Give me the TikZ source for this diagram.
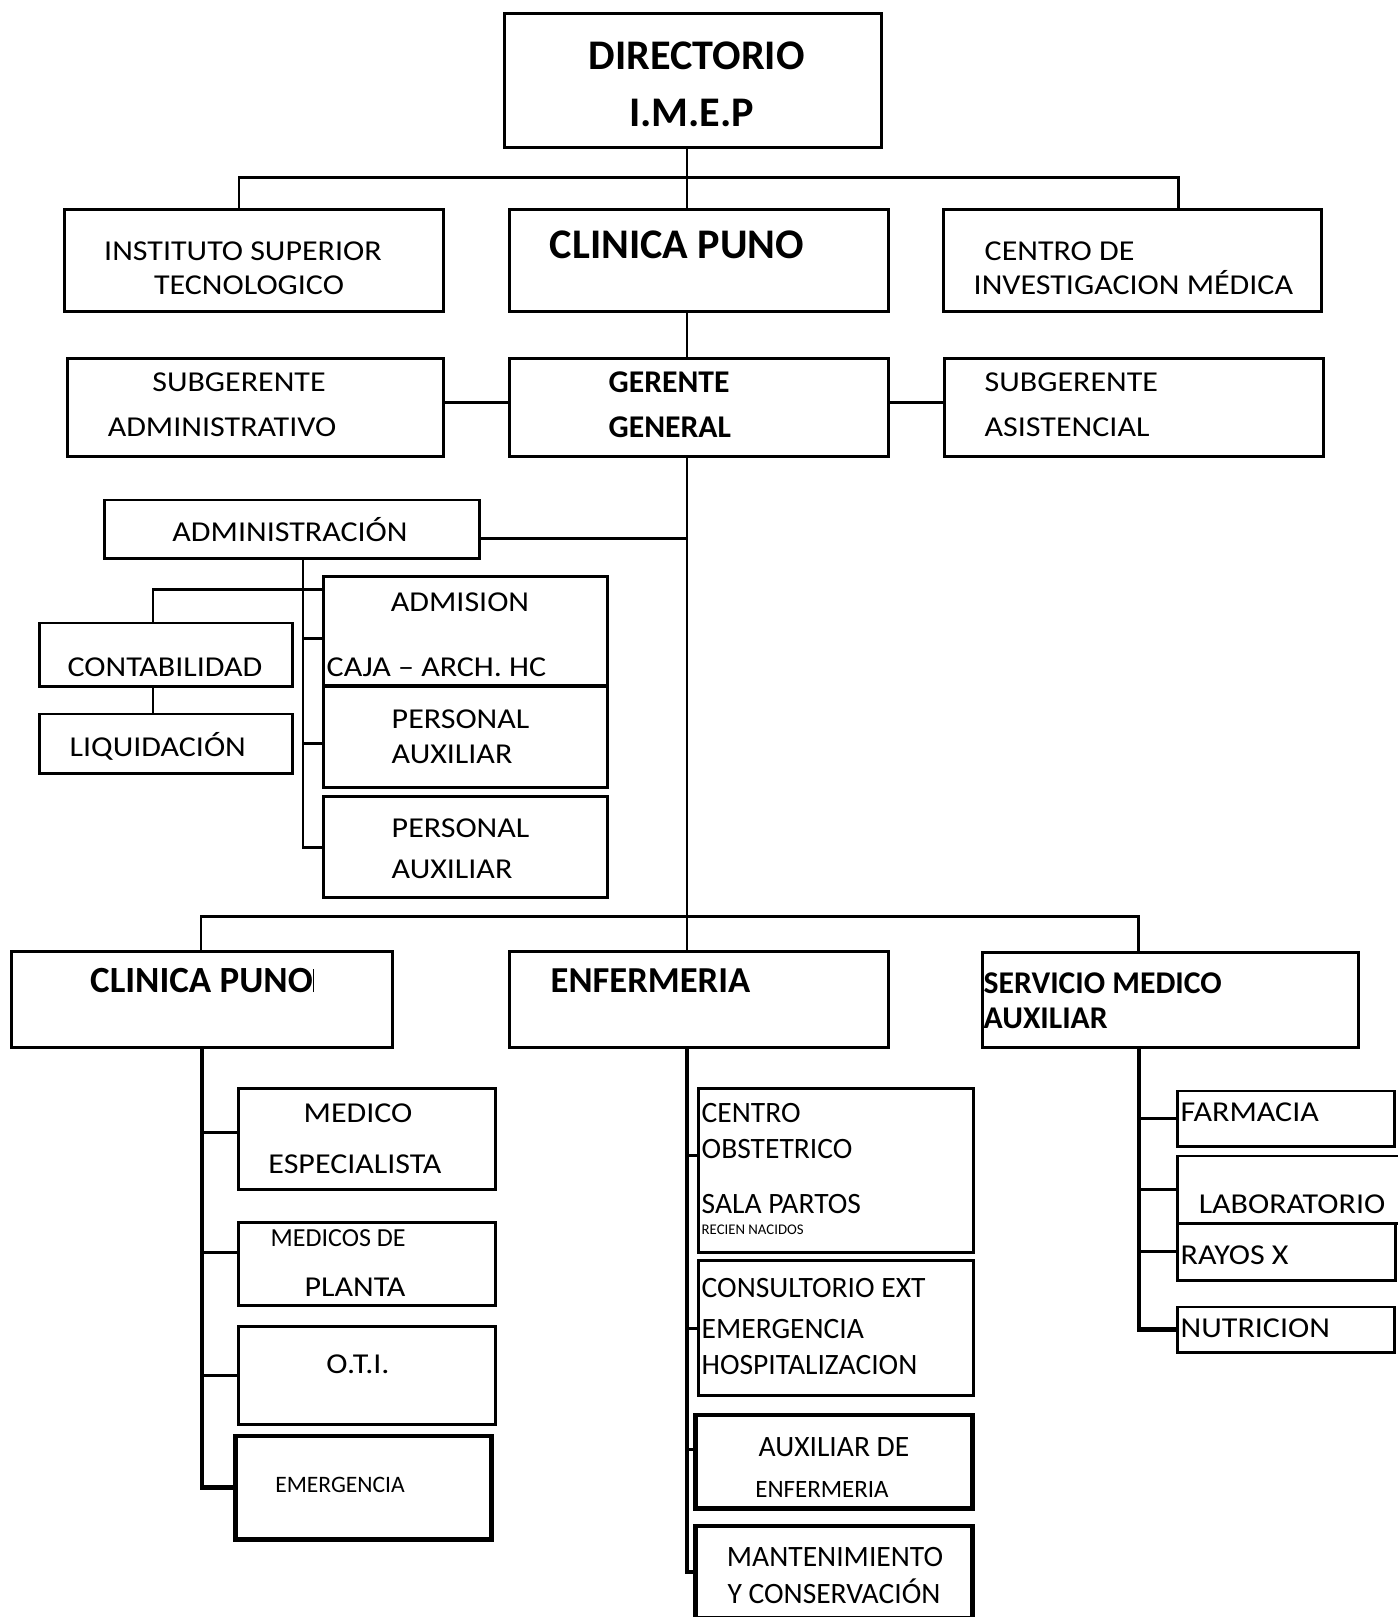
\documentclass[tikz,border=0pt]{standalone}
\usepackage{fontspec}
\setmainfont{Carlito}
\newfontfamily\widefont{Carlito}[FakeStretch=1.11]
\begin{document}
\begin{tikzpicture}[x=0.01cm, y=-0.01cm,
  box/.style={draw, line width=0.85pt, inner sep=0pt},
  heavybox/.style={box, line width=1.4pt},
  link/.style={line width=0.85pt},
  trunk/.style={line width=1.15pt},
  txt/.style={inner sep=0pt, font=\widefont\fontsize{#1}{#1}\selectfont},
  txt/.default=8.2,
  ntxt/.style={inner sep=0pt, font=\fontsize{#1}{#1}\selectfont},
  ntxt/.default=8.4,
  hd/.style={inner sep=0pt, font=\fontsize{#1}{#1}\selectfont\bfseries}]
\useasboundingbox (0,0) rectangle (1398,1617);

% Boxes, top levels
\node[box, minimum width=3.76cm, minimum height=1.33cm] (dir) at (693,80.5) {};
\node[box, minimum width=3.78cm, minimum height=1.01cm] (ist) at (254,260.5) {};
\node[box, minimum width=3.78cm, minimum height=1.01cm] (cp) at (699,260.5) {};
\node[box, minimum width=3.77cm, minimum height=1.01cm] (cim) at (1132.5,260.5) {};
\node[box, minimum width=3.75cm, minimum height=0.97cm] (sga) at (255.5,407.5) {};
\node[box, minimum width=3.78cm, minimum height=0.97cm] (gg) at (699,407.5) {};
\node[box, minimum width=3.78cm, minimum height=0.97cm] (sgs) at (1134,407.5) {};

% Administracion
\node[box, minimum width=3.74cm, minimum height=0.58cm] (adm) at (292,529) {};
\node[box, minimum width=2.52cm, minimum height=0.63cm] (con) at (166,654.5) {};
\node[box, minimum width=2.52cm, minimum height=0.59cm] (liq) at (166,743.5) {};
\node[box, minimum width=2.83cm, minimum height=1.09cm] (adn) at (465.5,631.5) {};
\node[box, minimum width=2.83cm, minimum height=1.01cm] (pa1) at (465.5,736.5) {};
\node[box, minimum width=2.83cm, minimum height=1.00cm] (pa2) at (465.5,847) {};

% Lower level
\node[box, minimum width=3.80cm, minimum height=0.95cm] (cp2) at (202,999.5) {};
\node[box, minimum width=3.78cm, minimum height=0.95cm] (enf) at (699,999.5) {};
\node[box, minimum width=3.75cm, minimum height=0.94cm] (sma) at (1170.5,1000) {};

\node[box, minimum width=2.56cm, minimum height=1.00cm] (mes) at (367,1139) {};
\node[box, minimum width=2.56cm, minimum height=0.82cm] (mdp) at (367,1264) {};
\node[box, minimum width=2.56cm, minimum height=0.97cm] (oti) at (367,1375.5) {};
\node[heavybox, minimum width=2.55cm, minimum height=1.03cm] (eme) at (363.5,1487.5) {};

\node[box, minimum width=2.74cm, minimum height=1.63cm] (cob) at (836,1170.5) {};
\node[box, minimum width=2.74cm, minimum height=1.34cm] (cex) at (836,1328) {};
\node[heavybox, minimum width=2.76cm, minimum height=0.93cm] (aux) at (834,1461.5) {};
\node[heavybox, minimum width=2.76cm, minimum height=0.92cm] (man) at (834,1572) {};

\node[box, minimum width=2.16cm, minimum height=0.55cm] (far) at (1286,1118.5) {};
\node[box, minimum width=2.32cm, minimum height=0.67cm] (lab) at (1294,1189.5) {};
\node[box, minimum width=2.17cm, minimum height=0.57cm] (ray) at (1286.5,1251.5) {};
\node[box, minimum width=2.16cm, minimum height=0.45cm] (nut) at (1286,1329.5) {};

% Texts
\node[hd=12, anchor=base] (dirA) at (696.7,69.5) {DIRECTORIO};
\node[hd=12, anchor=base] (dirB) at (691.7,126) {I.M.E.P};
\node[txt, anchor=base] (istA) at (243,260) {INSTITUTO SUPERIOR};
\node[txt, anchor=base] (istB) at (249,294) {TECNOLOGICO};
\node[hd=12, anchor=base] (cpA) at (677,258.5) {CLINICA PUNO};
\node[txt, anchor=base west] (cimA) at (984,260) {CENTRO DE};
\node[txt, anchor=base west] (cimB) at (973,294) {INVESTIGACION MÉDICA};
\node[txt, anchor=base] (sgaA) at (239,391) {SUBGERENTE};
\node[txt, anchor=base] (sgaB) at (222,436) {ADMINISTRATIVO};
\node[hd=9, anchor=base west] (ggA) at (608,392) {GERENTE};
\node[hd=9, anchor=base west] (ggB) at (608,437) {GENERAL};
\node[txt, anchor=base west] (sgsA) at (984,391) {SUBGERENTE};
\node[txt, anchor=base west] (sgsB) at (984,436) {ASISTENCIAL};

\node[txt, anchor=base] (admA) at (290,541) {ADMINISTRACIÓN};
\node[txt, anchor=base] (conA) at (165,676) {CONTABILIDAD};
\node[txt, anchor=base west] (liqA) at (69,756) {LIQUIDACIÓN};
\node[txt, anchor=base] (adnA) at (460,611) {ADMISION};
\node[txt, anchor=base west] (adnB) at (326,676) {CAJA – ARCH. HC};
\node[txt, anchor=base west] (pa1A) at (391,728) {PERSONAL};
\node[txt, anchor=base west] (pa1B) at (391,763) {AUXILIAR};
\node[txt, anchor=base west] (pa2A) at (391,837) {PERSONAL};
\node[txt, anchor=base west] (pa2B) at (391,878) {AUXILIAR};

\node[hd=10.5, anchor=base] (cp2A) at (202,992) {CLINICA PUNO\rule{0.3pt}{0.62em}};
\node[hd=10.4, anchor=base west] (enfA) at (550,992) {ENFERMERIA};
\node[hd=9, anchor=base west] (smaA) at (983,993) {SERVICIO MEDICO};
\node[hd=9, anchor=base west] (smaB) at (983,1028) {AUXILIAR};

\node[txt, anchor=base] (mesA) at (358,1122) {MEDICO};
\node[txt, anchor=base] (mesB) at (355,1173) {ESPECIALISTA};
\node[ntxt=7.4, anchor=base west] (mdpA) at (270,1246) {MEDICOS DE};
\node[txt, anchor=base] (mdpB) at (355,1296) {PLANTA};
\node[txt, anchor=base] (otiA) at (358,1373) {O.T.I.};
\node[ntxt=6.7, anchor=base] (emeA) at (340,1492.5) {EMERGENCIA};

\node[ntxt, anchor=base west] (cobA) at (701,1122) {CENTRO};
\node[ntxt, anchor=base west] (cobB) at (701,1158) {OBSTETRICO};
\node[ntxt, anchor=base west] (cobC) at (701,1213) {SALA PARTOS};
\node[ntxt=4.2, anchor=base west] (cobD) at (701,1234) {RECIEN NACIDOS};
\node[ntxt, anchor=base west] (cexA) at (701,1297) {CONSULTORIO EXT};
\node[ntxt, anchor=base west] (cexB) at (701,1338) {EMERGENCIA};
\node[ntxt, anchor=base west] (cexC) at (701,1374) {HOSPITALIZACION};
\node[ntxt, anchor=base] (auxA) at (834,1456) {AUXILIAR DE};
\node[ntxt=7.1, anchor=base] (auxB) at (822,1497) {ENFERMERIA};
\node[ntxt, anchor=base] (manA) at (835,1566) {MANTENIMIENTO};
\node[ntxt, anchor=base] (manB) at (834,1603) {Y CONSERVACIÓN};

\node[txt, anchor=base west] (farA) at (1180,1121) {FARMACIA};
\node[txt, anchor=base] (labA) at (1292,1213) {LABORATORIO};
\node[txt, anchor=base west] (rayA) at (1180,1264) {RAYOS X};
\node[txt, anchor=base west] (nutA) at (1180,1337) {NUTRICION};

% Connectors
\coordinate (mx) at (687,0);
\coordinate (b1l) at (239,177);
\coordinate (b1r) at (1178,177);
\coordinate (b2l) at (201,916);
\coordinate (b2r) at (1138,916);
\coordinate (admT) at (303,558);
\coordinate (br) at (153,589);
\coordinate (smaT) at (1139,1047);

\draw[link] (dir.south -| mx) -- (cp.north -| mx);
\draw[link] (b1l |- ist.north) -- (b1l) -- (b1r) -- (b1r |- cim.north);
\draw[link] (cp.south -| mx) -- (gg.north -| mx);
\draw[link] ([yshift=0.055cm]sga.east) -- ([yshift=0.055cm]gg.west);
\draw[link] ([yshift=0.055cm]gg.east) -- ([yshift=0.055cm]sgs.west);
\draw[link] (gg.south -| mx) -- (enf.north -| mx);
\draw[link] ([yshift=-0.09cm]adm.east) -- ([yshift=-0.09cm]adm.east -| mx);

\draw[link] (admT) |- (pa2.west);
\draw[link] ([yshift=-0.065cm]admT |- adn.west) -- ([yshift=-0.065cm]adn.west);
\draw[link] ([yshift=-0.065cm]admT |- pa1.west) -- ([yshift=-0.065cm]pa1.west);
\draw[link] (br |- con.north) -- (br) -- (br -| adn.west);
\draw[link] (br |- con.south) -- (br |- liq.north);

\draw[link] (b2l |- cp2.north) -- (b2l) -- (b2r) -- (b2r |- sma.north);

% Clinica Puno
\draw[trunk] (cp2.south) |- (eme.west);
\draw[link] ([yshift=0.065cm]cp2.south |- mes.west) -- ([yshift=0.065cm]mes.west);
\draw[link] ([yshift=0.12cm]cp2.south |- mdp.west) -- ([yshift=0.12cm]mdp.west);
\draw[link] (cp2.south |- oti.west) -- (oti.west);

% Enfermeria
\draw[trunk] (enf.south -| mx) |- (man.west);
\draw[link] ([yshift=0.155cm]mx |- cob.west) -- ([yshift=0.155cm]cob.west);
\draw[link] (mx |- cex.west) -- (cex.west);
\draw[link] ([yshift=0.125cm]mx |- aux.west) -- ([yshift=0.125cm]aux.west);

% Servicio medico auxiliar
\draw[trunk] (smaT) |- (nut.west);
\draw[link] (smaT |- far.west) -- (far.west);
\draw[link] (smaT |- lab.west) -- (lab.west);
\draw[link] (smaT |- ray.west) -- (ray.west);
\end{tikzpicture}
\end{document}
